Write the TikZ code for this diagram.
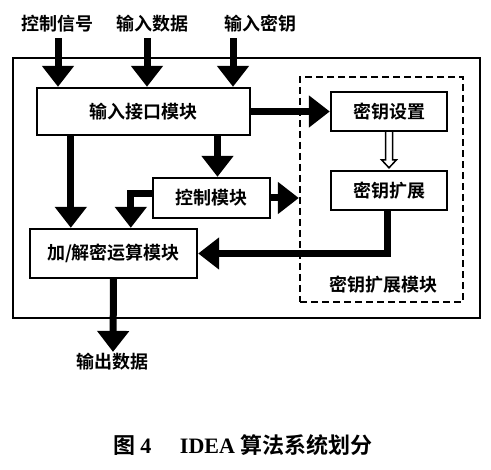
\documentclass[tikz,border=0pt]{standalone}
\usepackage{fontspec}
\usepackage{tikz}
\usetikzlibrary{arrows.meta}
\newfontfamily\cjk{Noto Sans CJK SC}[BoldFont={Noto Sans CJK SC Bold}]
\newfontfamily\capfont{Liberation Serif}

\begin{document}
\begin{tikzpicture}[x=1pt, y=-1pt, font=\cjk\bfseries\fontsize{18}{18}\selectfont,
        box/.style = {draw, line width=2.4pt, inner sep=0pt},
        flow/.style = {line width=7pt, -{Triangle[width=31pt, length=21pt]}}]
        \useasboundingbox (0,0) rectangle (491,470);
        % frames
        \node[box, minimum width=467pt, minimum height=260pt] (sys) at (246.5,188) {};
        \node[draw, line width=2.4pt, dash pattern=on 7pt off 4pt, minimum width=163pt, minimum height=225pt] (kmod) at (381.5,189.5) {};
        \node (kmodlbl) at (383,285) {密钥扩展模块};
        % blocks
        \node[box, minimum width=213pt, minimum height=47pt] (in) at (143.5,111.5) {输入接口模块};
        \node[box, minimum width=116pt, minimum height=39pt] (ks) at (389,111.5) {密钥设置};
        \node[box, minimum width=116pt, minimum height=39pt] (ke) at (389,190.5) {密钥扩展};
        \node[box, minimum width=117pt, minimum height=40pt] (ctl) at (211.5,198) {控制模块};
        \node[box, minimum width=167pt, minimum height=49pt] (enc) at (113.5,253.5) {加/解密运算模块};
        % outside texts
        \node (sig) at (58,24) {控制信号};
        \node (dat) at (152,24) {输入数据};
        \node (key) at (260,24) {输入密钥};
        \node (out) at (113,362) {输出数据};
        \node[font=\cjk\bfseries\fontsize{22}{22}\selectfont] (cap) at (243,445)
            {图\hspace{0.2em}{\capfont\bfseries 4}\hspace{1.3em}{\capfont\bfseries IDEA} 算法系统划分};
        % connectors
        \draw[flow] ([yshift=-2pt]sig.south) -- (sig.south |- in.north);
        \draw[flow] ([xshift=-5pt,yshift=-2pt]dat.south) -- ([xshift=-5pt]dat.south |- in.north);
        \draw[flow] ([xshift=-27pt,yshift=-2pt]key.south) -- ([xshift=-27pt]key.south |- in.north);
        \draw[flow] (in.east) -- (ks.west);
        \draw[flow] ([xshift=35pt]in.south west) -- ([xshift=35pt]in.south west |- enc.north);
        \draw[flow] ([xshift=6pt]ctl.north |- in.south) -- ([xshift=6pt]ctl.north);
        \draw[flow] ([yshift=4pt]ctl.west) -| ([xshift=102pt]enc.north west);
        \draw[flow] (ctl.east) -- (ctl.east -| kmod.west);
        \draw[flow] ([xshift=-2pt]ke.south) |- (enc.east);
        \draw[flow] (enc.south) -- ([yshift=-2pt]out.north);
        \draw[line width=1.5pt, fill=white] ([xshift=-3.5pt]ks.south) -- ([xshift=-3.5pt,yshift=10pt]ke.north)
            -- ([xshift=-7.5pt,yshift=10pt]ke.north) -- ([yshift=2pt]ke.north) -- ([xshift=7.5pt,yshift=10pt]ke.north)
            -- ([xshift=3.5pt,yshift=10pt]ke.north) -- ([xshift=3.5pt]ks.south);
\end{tikzpicture}
\end{document}
